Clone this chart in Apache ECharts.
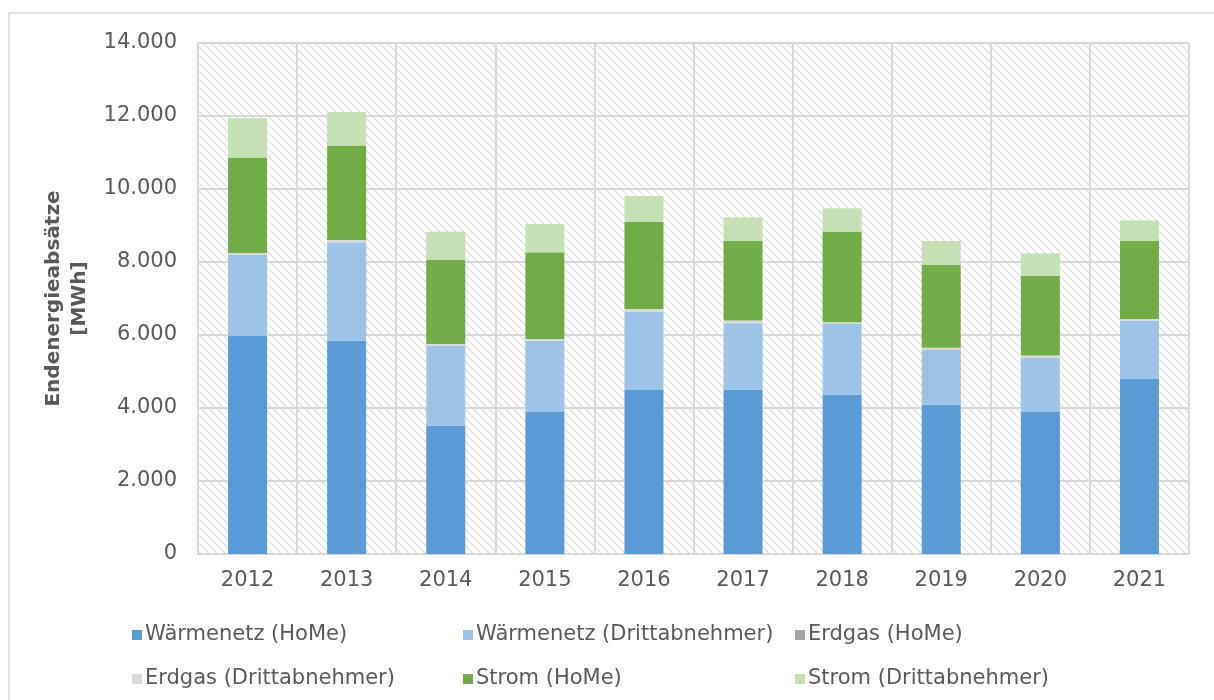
<!DOCTYPE html>
<html>
<head>
<meta charset="utf-8">
<script src="https://cdn.jsdelivr.net/npm/echarts@6/dist/echarts.min.js"></script>
<style>
  html, body { margin: 0; padding: 0; background: #fff; }
  #chart { width: 1214px; height: 700px; }
</style>
</head>
<body>
<div id="chart"></div>
<script>
(function () {
  var years = ['2012', '2013', '2014', '2015', '2016', '2017', '2018', '2019', '2020', '2021'];
  var waermeHoMe = [5980, 5840, 3515, 3890, 4490, 4510, 4360, 4090, 3890, 4810];
  var waermeDritt = [2210, 2700, 2195, 1950, 2150, 1810, 1940, 1500, 1490, 1580];
  var erdgasHoMe = [0, 0, 0, 0, 0, 0, 0, 0, 0, 0];
  var erdgasDritt = [60, 60, 45, 50, 70, 80, 50, 60, 55, 50];
  var stromHoMe = [2610, 2590, 2300, 2375, 2390, 2175, 2470, 2270, 2185, 2135];
  var stromDritt = [1080, 920, 775, 775, 710, 650, 650, 655, 620, 565];
  var yTicks = [0, 2000, 4000, 6000, 8000, 10000, 12000, 14000];

  var font = 'DejaVu Sans';
  var textGrey = '#595959';
  var lineGrey = '#d9d9d9';

  // hatch tile for the plot area ("\" lines)
  function hatchTile() {
    var c = document.createElement('canvas');
    c.width = 8;
    c.height = 8;
    var ctx = c.getContext('2d');
    ctx.fillStyle = '#ffffff';
    ctx.fillRect(0, 0, 8, 8);
    ctx.strokeStyle = '#dcdcdc';
    ctx.lineWidth = 1.2;
    ctx.beginPath();
    ctx.moveTo(-1, -1); ctx.lineTo(9, 9);
    ctx.moveTo(-5, 3); ctx.lineTo(5, 13);
    ctx.moveTo(3, -5); ctx.lineTo(13, 5);
    ctx.stroke();
    return c;
  }

  function fmt(v) {
    return String(v).replace(/\B(?=(\d{3})+(?!\d))/g, '.');
  }

  function bar(name, data, color) {
    return {
      name: name,
      type: 'bar',
      stack: 'total',
      barWidth: 39,
      itemStyle: { color: color },
      emphasis: { disabled: true },
      data: data
    };
  }

  function legend(left, names) {
    return {
      orient: 'vertical',
      left: left,
      top: 619,
      itemWidth: 10,
      itemHeight: 10,
      itemGap: 22,
      icon: 'rect',
      textStyle: { fontFamily: font, fontSize: 21, color: textGrey, lineHeight: 22, padding: [0, 0, 0, -2] },
      data: names
    };
  }

  var chart = echarts.init(document.getElementById('chart'), null, { renderer: 'canvas' });

  chart.setOption({
    backgroundColor: '#ffffff',
    animation: false,
    textStyle: { fontFamily: font },
    graphic: [{
      type: 'rect',
      shape: { x: 9, y: 13, width: 1220, height: 700 },
      style: { fill: 'none', stroke: lineGrey, lineWidth: 1.5 },
      silent: true
    }],
    grid: {
      left: 198,
      right: 25,
      top: 43,
      bottom: 146,
      show: true,
      borderWidth: 0,
      backgroundColor: { image: hatchTile(), repeat: 'repeat' }
    },
    legend: [
      legend(127, ['Wärmenetz (HoMe)', 'Erdgas (Drittabnehmer)']),
      legend(458, ['Wärmenetz (Drittabnehmer)', 'Strom (HoMe)']),
      legend(790, ['Erdgas (HoMe)', 'Strom (Drittabnehmer)'])
    ],
    xAxis: {
      type: 'category',
      data: years,
      axisLine: { lineStyle: { color: lineGrey, width: 2 } },
      axisTick: { show: false },
      axisLabel: { fontFamily: font, fontSize: 21, color: textGrey, margin: 16 },
      splitLine: { show: true, lineStyle: { color: lineGrey, width: 2 } }
    },
    yAxis: {
      type: 'value',
      min: yTicks[0],
      max: yTicks[yTicks.length - 1],
      interval: yTicks[1] - yTicks[0],
      name: 'Endenergieabsätze\n[MWh]',
      nameLocation: 'middle',
      nameGap: 101,
      nameRotate: 90,
      nameTextStyle: { fontFamily: font, fontSize: 20, fontWeight: 'bold', color: textGrey, lineHeight: 26 },
      axisLine: { show: true, lineStyle: { color: lineGrey, width: 2 } },
      axisTick: { show: false },
      axisLabel: { fontFamily: font, fontSize: 21, color: textGrey, margin: 21, formatter: fmt },
      splitLine: { lineStyle: { color: lineGrey, width: 2 } }
    },
    series: [
      bar('Wärmenetz (HoMe)', waermeHoMe, '#5b9bd5'),
      bar('Wärmenetz (Drittabnehmer)', waermeDritt, '#9dc3e6'),
      bar('Erdgas (HoMe)', erdgasHoMe, '#a5a5a5'),
      bar('Erdgas (Drittabnehmer)', erdgasDritt, '#d9d9d9'),
      bar('Strom (HoMe)', stromHoMe, '#70ad47'),
      bar('Strom (Drittabnehmer)', stromDritt, '#c5e0b4')
    ]
  });
})();
</script>
</body>
</html>
